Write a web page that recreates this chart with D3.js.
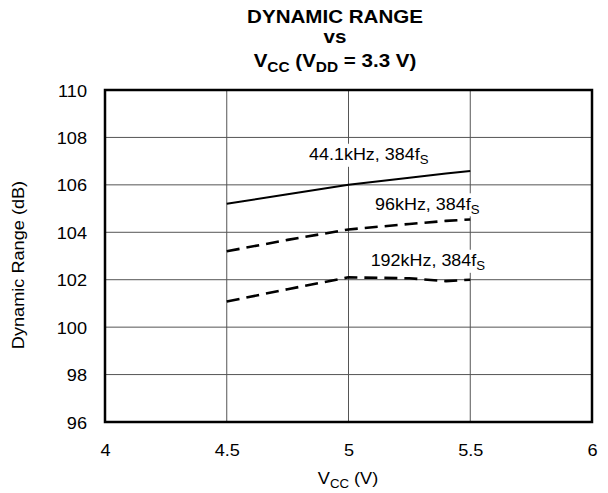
<!DOCTYPE html>
<html><head><meta charset="utf-8">
<script src="https://cdn.jsdelivr.net/npm/d3@7"></script>
<style>
html,body{margin:0;padding:0;background:#fff;}
svg{display:block;font-family:"Liberation Sans",Arial,Helvetica,sans-serif;}
</style></head>
<body>
<script>
// ---- data ----
const vcc = [4.5, 4.75, 5, 5.25, 5.4, 5.5];
const dr441 = [105.2, 105.6, 106.0, 106.3, 106.48, 106.58];
const dr96  = [103.2, 103.68, 104.12, 104.35, 104.48, 104.54];
const dr192 = [101.08, 101.6, 102.1, 102.06, 101.94, 102.0];
const seriesNames = ["44.1kHz, 384f", "96kHz, 384f", "192kHz, 384f"];
const labelAt = [[4.838, 107.05], [5.109, 104.96], [5.091, 102.58]];
const xTicks = [4, 4.5, 5, 5.5, 6];
const yTicks = [96, 98, 100, 102, 104, 106, 108, 110];

const W = 608, H = 493;
const m = {left:105, right:16, top:90, bottom:71};
const SX = 1.1; // horizontal text stretch

const svg = d3.select("body").append("svg").attr("width", W).attr("height", H);
const x = d3.scaleLinear().domain([4, 6]).range([m.left, W - m.right]);
const y = d3.scaleLinear().domain([96, 110]).range([H - m.bottom, m.top]);

function txt(parent, px, py, opts) {
  const g = parent.append("g").attr("transform",
    `translate(${px},${py})` + (opts.rotate ? ` rotate(${opts.rotate})` : "") + ` scale(${SX},1)`);
  const t = g.append("text")
    .attr("text-anchor", opts.anchor || "middle")
    .attr("font-size", opts.size)
    .attr("font-weight", opts.bold ? "bold" : "normal")
    .attr("fill", "#000");
  return {g, t};
}

// grid
svg.append("g").selectAll("line").data(xTicks.slice(1, -1)).join("line")
  .attr("x1", d => x(d)).attr("x2", d => x(d))
  .attr("y1", y(96)).attr("y2", y(110))
  .attr("stroke", "#555").attr("stroke-width", 1);
svg.append("g").selectAll("line").data(yTicks.slice(1, -1)).join("line")
  .attr("y1", d => y(d)).attr("y2", d => y(d))
  .attr("x1", x(4)).attr("x2", x(6))
  .attr("stroke", "#555").attr("stroke-width", 1);

// axes tick labels via d3 axis (no tick lines)
const xAxis = svg.append("g").attr("transform", `translate(0,${y(96)})`)
  .call(d3.axisBottom(x).tickValues(xTicks).tickSize(0).tickPadding(0).tickFormat(d3.format("")));
xAxis.select(".domain").remove();
xAxis.selectAll(".tick").each(function(d) {
  const p = d3.select(this);
  p.select("text").remove();
  txt(p, 0, 34, {size: 16.5}).t.text(d);
});
const yAxis = svg.append("g").attr("transform", `translate(${x(4)},0)`)
  .call(d3.axisLeft(y).tickValues(yTicks).tickSize(0).tickPadding(0));
yAxis.select(".domain").remove();
yAxis.selectAll(".tick").each(function(d) {
  const p = d3.select(this);
  p.select("text").remove();
  txt(p, -18, 6, {size: 16.5, anchor: "end"}).t.text(d);
});

// series lines
const lineGen = d3.line().x(d => x(d[0])).y(d => y(d[1]));
const series = [dr441, dr96, dr192];
const styles = [
  {w: 2, dash: null},
  {w: 2.6, dash: "13,7"},
  {w: 2.6, dash: "13,7"}
];
series.forEach((s, i) => {
  svg.append("path").datum(vcc.map((v, j) => [v, s[j]]))
    .attr("d", lineGen).attr("fill", "none").attr("stroke", "#000")
    .attr("stroke-width", styles[i].w)
    .attr("stroke-dasharray", styles[i].dash);
});

// frame
svg.append("rect").attr("x", x(4)).attr("y", y(110))
  .attr("width", x(6) - x(4)).attr("height", y(96) - y(110))
  .attr("fill", "none").attr("stroke", "#000").attr("stroke-width", 2.5);

// curve labels with white background
seriesNames.forEach((name, i) => {
  const {g, t} = txt(svg, x(labelAt[i][0]), y(labelAt[i][1]), {size: 16.3, anchor: "start"});
  t.append("tspan").text(name);
  t.append("tspan").attr("font-size", 12).attr("dy", 4).text("S");
  const bb = t.node().getBBox();
  g.insert("rect", "text").attr("x", bb.x - 2).attr("y", bb.y - 1)
    .attr("width", bb.width + 4).attr("height", bb.height + 1).attr("fill", "#fff");
});

// title
const tcx = 335;
txt(svg, tcx, 22.5, {size: 18.7, bold: true}).t.text("DYNAMIC RANGE");
txt(svg, tcx, 43, {size: 18.7, bold: true}).t.text("vs");
const l3 = txt(svg, tcx, 66.5, {size: 18.7, bold: true}).t;
l3.append("tspan").text("V");
l3.append("tspan").attr("font-size", 14).attr("dy", 5).text("CC");
l3.append("tspan").attr("dy", -5).text(" (V");
l3.append("tspan").attr("font-size", 14).attr("dy", 5).text("DD");
l3.append("tspan").attr("dy", -5).text(" = 3.3 V)");

// axis titles
const xt = txt(svg, 348, 484, {size: 16.5}).t;
xt.append("tspan").text("V");
xt.append("tspan").attr("font-size", 12).attr("dy", 4).text("CC");
xt.append("tspan").attr("dy", -4).text(" (V)");

txt(svg, 24, 265, {size: 16.5, rotate: -90}).t.text("Dynamic Range (dB)");
</script>
</body></html>
